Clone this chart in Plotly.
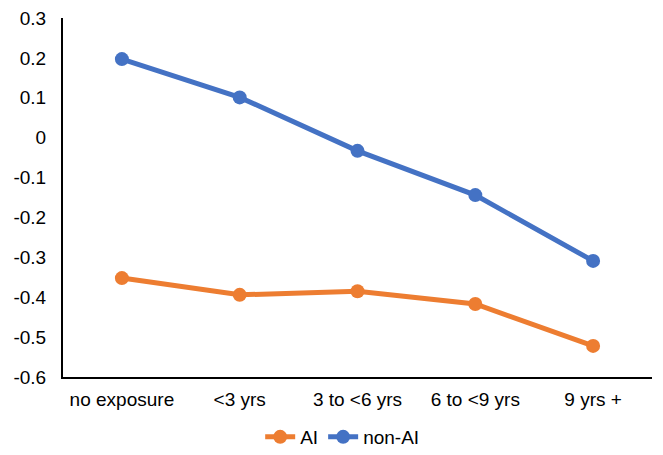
import plotly.graph_objects as go

# Exposure categories and mean scores per group
categories = ["no exposure", "<3 yrs", "3 to <6 yrs", "6 to <9 yrs", "9 yrs +"]
ai_values = [-0.352, -0.394, -0.385, -0.417, -0.522]
non_ai_values = [0.197, 0.101, -0.033, -0.144, -0.309]
y_ticks = [0.3, 0.2, 0.1, 0, -0.1, -0.2, -0.3, -0.4, -0.5, -0.6]

FONT = "Liberation Sans, Arial, sans-serif"
ORANGE = "#ED7D31"
BLUE = "#4472C4"

fig = go.Figure()
fig.add_trace(go.Scatter(
    x=categories, y=ai_values, name="AI", mode="lines+markers",
    line=dict(color=ORANGE, width=5), marker=dict(color=ORANGE, size=14),
))
fig.add_trace(go.Scatter(
    x=categories, y=non_ai_values, name="non-AI", mode="lines+markers",
    line=dict(color=BLUE, width=5), marker=dict(color=BLUE, size=14),
))

fig.update_layout(
    width=663, height=455,
    margin=dict(l=63, r=11, t=18, b=78, autoexpand=False),
    paper_bgcolor="white", plot_bgcolor="white",
    font=dict(family=FONT, size=19, color="#000000"),
    showlegend=True,
    legend=dict(
        orientation="h", x=0.474, xanchor="center",
        yref="container", y=18 / 455, yanchor="middle",
        font=dict(size=19), traceorder="normal",
    ),
    xaxis=dict(
        type="category", range=[-0.5, 4.5],
        showgrid=False, zeroline=False,
        showline=True, linecolor="black", linewidth=2,
        ticks="", ticklabelstandoff=4,
    ),
    yaxis=dict(
        range=[-0.6, 0.3], tickvals=y_ticks,
        ticktext=[f"{v:g}" for v in y_ticks],
        showgrid=False, zeroline=False,
        showline=True, linecolor="black", linewidth=2,
        ticks="", ticklabelstandoff=11,
    ),
)

fig.write_html("out.html")
